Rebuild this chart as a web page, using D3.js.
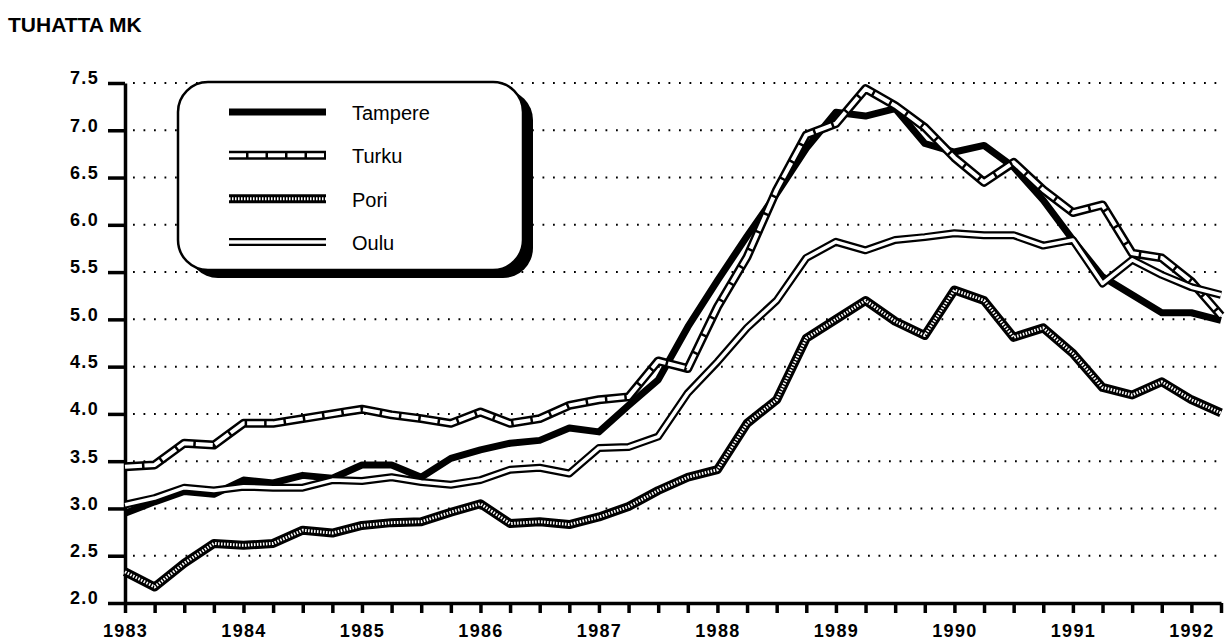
<!DOCTYPE html>
<html lang='fi'>
<head>
<meta charset='utf-8'>
<title>Tuhatta mk</title>
<script src='https://d3js.org/d3.v7.min.js'></script>
<style>
  body { margin: 0; background: #fff; }
  text { font-family: 'Liberation Sans', Arial, sans-serif; fill: #000; }
</style>
</head>
<body>
<script>
'use strict'

// quarterly data, 1983 Q1 .. 1992 Q2
const years = [1983, 1984, 1985, 1986, 1987, 1988, 1989, 1990, 1991, 1992]
const quarterOffsets = [0, 0.25, 0.5, 0.75]
const periods = years.flatMap(y => quarterOffsets.map(q => y + q)).slice(0, 38)

const yTicks = [2.0, 2.5, 3.0, 3.5, 4.0, 4.5, 5.0, 5.5, 6.0, 6.5, 7.0, 7.5]

const tampere = [2.95, 3.07, 3.18, 3.15, 3.30, 3.27, 3.35, 3.32, 3.46, 3.46,
                 3.33, 3.53, 3.62, 3.69, 3.72, 3.85, 3.81, 4.09, 4.36, 4.92,
                 5.41, 5.88, 6.33, 6.81, 7.19, 7.15, 7.23, 6.86, 6.77, 6.84,
                 6.61, 6.26, 5.84, 5.45, 5.26, 5.07, 5.07, 4.99]
const turku   = [3.44, 3.46, 3.69, 3.67, 3.90, 3.90, 3.95, 4.00, 4.05, 3.99,
                 3.95, 3.90, 4.02, 3.90, 3.95, 4.09, 4.15, 4.18, 4.56, 4.48,
                 5.13, 5.66, 6.37, 6.95, 7.07, 7.44, 7.26, 7.03, 6.71, 6.45,
                 6.66, 6.37, 6.13, 6.21, 5.70, 5.65, 5.40, 5.04]
const pori    = [2.33, 2.17, 2.42, 2.63, 2.61, 2.63, 2.77, 2.74, 2.82, 2.85,
                 2.86, 2.96, 3.05, 2.84, 2.86, 2.83, 2.91, 3.02, 3.19, 3.33,
                 3.41, 3.90, 4.15, 4.80, 5.00, 5.20, 4.98, 4.83, 5.31, 5.20,
                 4.81, 4.91, 4.64, 4.28, 4.20, 4.34, 4.15, 4.01]
const oulu    = [3.04, 3.11, 3.22, 3.19, 3.23, 3.22, 3.22, 3.30, 3.29, 3.33,
                 3.28, 3.25, 3.30, 3.41, 3.43, 3.37, 3.64, 3.65, 3.76, 4.22,
                 4.55, 4.91, 5.20, 5.65, 5.82, 5.73, 5.84, 5.87, 5.91, 5.89,
                 5.89, 5.78, 5.84, 5.38, 5.63, 5.47, 5.34, 5.26]

const seriesNames = ['Tampere', 'Turku', 'Pori', 'Oulu']
const seriesValues = [tampere, turku, pori, oulu]

// each series is drawn as stacked strokes (black outline, white/patterned core)
const seriesStyles = {
  Tampere: [{w: 7, c: '#000'}],
  Turku:   [{w: 9, c: '#000'}, {w: 4, c: '#fff', dash: '17,2.5'}],
  Pori:    [{w: 9, c: '#000'}, {w: 3, c: '#fff', dash: '1.5,1.5'}],
  Oulu:    [{w: 8, c: '#000'}, {w: 3.5, c: '#fff'}]
}
const drawOrder = ['Tampere', 'Turku', 'Pori', 'Oulu']

const W = 1230, H = 641
const svg = d3.select('body').append('svg')
  .attr('width', W)
  .attr('height', H)

svg.append('rect').attr('width', W).attr('height', H).attr('fill', '#fff')

const x = d3.scaleLinear().domain([1983, 1992.25]).range([125, 1221])
const y = d3.scaleLinear().domain([2, 7.5]).range([603, 83])

// title
svg.append('text')
  .attr('x', 8).attr('y', 32)
  .attr('font-size', 21).attr('font-weight', 'bold')
  .text('TUHATTA MK')

// dotted grid
svg.append('g')
  .selectAll('line')
  .data(yTicks.slice(1))
  .join('line')
    .attr('x1', 133).attr('x2', 1222)
    .attr('y1', d => y(d)).attr('y2', d => y(d))
    .attr('stroke', '#000')
    .attr('stroke-width', 2)
    .attr('stroke-dasharray', '1.8,8.7')

// axes
const yAxis = svg.append('g')
  .attr('transform', `translate(${x(1983)},0)`)
  .call(d3.axisLeft(y).tickValues(yTicks).tickSize(17).tickSizeOuter(0)
    .tickPadding(9).tickFormat(d3.format('.1f')))
const xAxis = svg.append('g')
  .attr('transform', `translate(0,${y(2)})`)
  .call(d3.axisBottom(x).tickValues(periods).tickSize(10).tickSizeOuter(0)
    .tickPadding(10).tickFormat(d => Number.isInteger(d) ? d : ''))

for (const ax of [yAxis, xAxis]) {
  ax.select('.domain').attr('stroke-width', 3.5)
  ax.selectAll('.tick line').attr('stroke-width', 3.5)
  ax.selectAll('.tick text')
    .attr('font-size', 18).attr('font-weight', 'bold')
    .attr('letter-spacing', 1.3)
    .attr('font-family', "'Liberation Sans', Arial, sans-serif")
}
yAxis.selectAll('.tick text').attr('dy', '0.05em')
xAxis.selectAll('.tick text').attr('dy', '0.8em')

// lines
const line = d3.line()
  .x((d, i) => x(periods[i]))
  .y(d => y(d))

for (const name of drawOrder) {
  const values = seriesValues[seriesNames.indexOf(name)]
  for (const s of seriesStyles[name]) {
    svg.append('path')
      .attr('d', line(values))
      .attr('fill', 'none')
      .attr('stroke', s.c)
      .attr('stroke-width', s.w)
      .attr('stroke-linejoin', 'round')
      .attr('stroke-dasharray', s.dash || null)
  }
}

// legend
const legend = svg.append('g')
legend.append('rect')
  .attr('x', 188).attr('y', 90).attr('width', 345).attr('height', 188)
  .attr('rx', 30).attr('fill', '#000')
legend.append('rect')
  .attr('x', 178).attr('y', 82).attr('width', 345).attr('height', 188)
  .attr('rx', 30).attr('fill', '#fff')
  .attr('stroke', '#000').attr('stroke-width', 2.5)

const legendY = d3.scalePoint().domain(seriesNames).range([112, 242])
seriesNames.forEach(name => {
  const ly = legendY(name)
  for (const s of seriesStyles[name]) {
    legend.append('line')
      .attr('x1', 229).attr('x2', 326)
      .attr('y1', ly).attr('y2', ly)
      .attr('stroke', s.c)
      .attr('stroke-width', s.w)
      .attr('stroke-dasharray', s.dash || null)
  }
  legend.append('text')
    .attr('x', 352).attr('y', ly + 8)
    .attr('font-size', 20)
    .text(name)
})
</script>
</body>
</html>
